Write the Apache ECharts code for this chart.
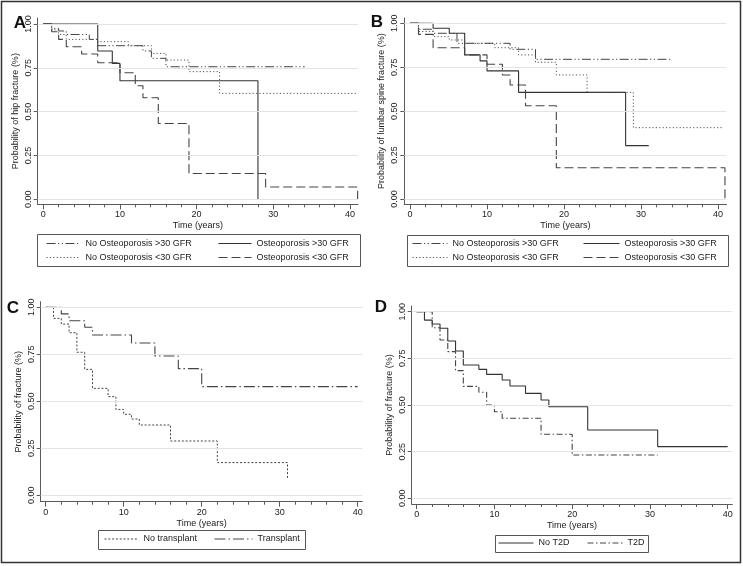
<!DOCTYPE html>
<html><head><meta charset="utf-8">
<script src="https://cdn.jsdelivr.net/npm/echarts@6/dist/echarts.min.js"></script>
<style>html,body{margin:0;padding:0;background:#fff}#c{width:743px;height:566px}</style>
</head><body><div id="c"></div>
<script>
// ---------- data ----------
const yearTicks = [0, 10, 20, 30, 40];
const yearMinorTicks = [2,4,6,8,12,14,16,18,22,24,26,28,32,34,36,38];
const probTicks = [0, 0.25, 0.5, 0.75, 1];
const panelLetters = ['A', 'B', 'C', 'D'];
const yTitles = ['Probability of hip fracture (%)', 'Probability of lumbar spine fracture (%)', 'Probability of fracture (%)', 'Probability of fracture (%)'];
const xTitle = 'Time (years)';
const namesAB = ['No Osteoporosis >30 GFR', 'Osteoporosis >30 GFR', 'No Osteoporosis <30 GFR', 'Osteoporosis <30 GFR'];
const namesC = ['No transplant', 'Transplant'];
const namesD = ['No T2D', 'T2D'];

// Panel A: hip fracture  [time (years), survival probability]
const hipNoOstHigh = [[0,1],[1.1,0.975],[2,0.96],[3,0.94],[6,0.912],[7.1,0.876],[13,0.846],[14.1,0.804],[16,0.756],[34.1,0.756]];
const hipOstHigh   = [[0,1],[7.1,0.846],[9,0.775],[10,0.676],[28,0]];
const hipNoOstLow  = [[0,1],[1.1,0.966],[2,0.94],[3,0.912],[7.1,0.899],[11.1,0.876],[14.1,0.832],[16,0.794],[19,0.728],[23,0.604],[41,0.604]];
const hipOstLow    = [[0,1],[1.1,0.956],[2,0.912],[3,0.87],[5,0.829],[7.1,0.779],[10,0.722],[12,0.648],[13,0.579],[15,0.432],[19,0.147],[29,0.07],[41,0]];
// Panel B: lumbar spine fracture
const spineNoOstHigh = [[0,1],[1.1,0.966],[3,0.943],[6.1,0.886],[13,0.852],[16.3,0.795],[34,0.795]];
const spineOstHigh   = [[0,1],[3,0.972],[5.1,0.943],[7.1,0.82],[9.1,0.786],[10,0.729],[14.1,0.607],[28,0.304],[31,0.304]];
const spineNoOstLow  = [[0,1],[1.1,0.953],[3,0.924],[5.1,0.905],[7.1,0.886],[11,0.861],[14.1,0.82],[16.3,0.778],[19,0.706],[23,0.607],[29,0.406],[40.7,0.406]];
const spineOstLow    = [[0,1],[1.1,0.937],[3,0.861],[7.1,0.82],[10,0.767],[12,0.706],[13,0.649],[15,0.531],[19,0.178],[40.9,0]];
// Panel C: transplant
const noTransplant = [[0,1],[1,0.941],[2,0.911],[3,0.865],[4,0.761],[5,0.67],[6,0.569],[8,0.525],[9,0.457],[10,0.431],[11,0.406],[12,0.374],[16,0.289],[22,0.174],[31,0.09]];
const transplant   = [[0,1],[2,0.965],[3,0.929],[5,0.894],[6,0.853],[11,0.81],[14,0.741],[17,0.674],[20,0.578],[40,0.578]];
// Panel D: type 2 diabetes
const noT2D = [[0,1],[1,0.955],[2,0.934],[3,0.911],[4,0.843],[5,0.789],[6,0.714],[8,0.691],[9,0.664],[11,0.634],[12,0.602],[14,0.5625],[16,0.527],[17,0.491],[22,0.366],[31,0.277],[40,0.277]];
const t2d   = [[0,1],[2,0.914],[3,0.848],[4,0.786],[5,0.684],[6,0.6],[8,0.568],[9,0.5],[10,0.464],[11,0.429],[16,0.343],[20,0.232],[31,0.232]];

// ---------- layout & styles ----------
const FONT = "'Liberation Sans', Arial, Helvetica, sans-serif";
const panels = [
  {grid:{left:37.7, top:18, width:320.3, height:186.3}, x:[-0.73, 41.05], y:[-0.0286, 1.034], letter:[20,23]},
  {grid:{left:404.3, top:18, width:322.2, height:186.3}, x:[-0.74, 41.1], y:[-0.030, 1.030], letter:[377,22]},
  {grid:{left:40.7, top:301.7, width:321.7, height:200}, x:[-0.64, 40.6], y:[-0.034, 1.030], letter:[13,308]},
  {grid:{left:411.7, top:306, width:320.6, height:198}, x:[-0.64, 40.6], y:[-0.0305, 1.0305], letter:[381,307]}
];
const styles = {
  'No Osteoporosis >30 GFR': {color:'#444', width:1, type:[9,2.5,1.2,2.5,1.2,2.5]},
  'Osteoporosis >30 GFR':    {color:'#333', width:1.1, type:'solid'},
  'No Osteoporosis <30 GFR': {color:'#555', width:1, type:[1.2,2.2]},
  'Osteoporosis <30 GFR':    {color:'#444', width:1.1, type:[9,4]},
  'No transplant':           {color:'#444', width:1, type:[2,1.8]},
  'Transplant':              {color:'#444', width:1.1, type:[11,3,1.5,3]},
  'No T2D':                  {color:'#333', width:1.1, type:'solid'},
  'T2D':                     {color:'#444', width:1.1, type:[6,2.5,1.5,2.5]}
};
const panelSeries = [
  [[namesAB[0], hipNoOstHigh], [namesAB[1], hipOstHigh], [namesAB[2], hipNoOstLow], [namesAB[3], hipOstLow]],
  [[namesAB[0], spineNoOstHigh], [namesAB[1], spineOstHigh], [namesAB[2], spineNoOstLow], [namesAB[3], spineOstLow]],
  [[namesC[0], noTransplant], [namesC[1], transplant]],
  [[namesD[0], noT2D], [namesD[1], t2d]]
];
const legendPlaces = [
  {box:[37,234,323,32], items:[[namesAB[0],46,244,34],[namesAB[1],218,244,33],[namesAB[2],46,258,34],[namesAB[3],218,258,33]]},
  {box:[407,235,321,31], items:[[namesAB[0],412,244,35],[namesAB[1],583,244,36],[namesAB[2],412,258,35],[namesAB[3],583,258,36]]},
  {box:[98,530,207,19], items:[[namesC[0],104,539.5,34],[namesC[1],214,539.5,38]]},
  {box:[495,535,153,17], items:[[namesD[0],498,543.5,35],[namesD[1],587,543.5,35]]}
];

const axisColor = '#5a5a5a';
const textColor = '#222';
const grids = [], xAxes = [], yAxes = [], series = [], legends = [], graphics = [];

panels.forEach((p, i) => {
  grids.push(Object.assign({containLabel:false}, p.grid));
  xAxes.push({
    gridIndex:i, type:'value', position:'bottom', min:p.x[0], max:p.x[1],
    axisLine:{show:true, onZero:false, lineStyle:{color:axisColor, width:1}},
    axisTick:{show:true, customValues:yearTicks, length:5, lineStyle:{color:axisColor}},
    axisLabel:{customValues:yearTicks, fontSize:9, color:textColor, margin:6, fontFamily:FONT},
    splitLine:{show:false},
    name:xTitle, nameLocation:'middle', nameGap:17,
    nameTextStyle:{fontSize:9, color:textColor, fontFamily:FONT}
  });
  yAxes.push({
    gridIndex:i, type:'value', position:'left', min:p.y[0], max:p.y[1],
    axisLine:{show:true, onZero:false, lineStyle:{color:axisColor, width:1}},
    axisTick:{show:true, customValues:probTicks, length:4, lineStyle:{color:axisColor}},
    axisLabel:{customValues:probTicks, rotate:90, fontSize:9, color:textColor, margin:5, fontFamily:FONT,
               formatter:v => Number(v).toFixed(2)},
    splitLine:{show:false},
    name:yTitles[i], nameLocation:'middle', nameRotate:90, nameGap:18,
    nameTextStyle:{fontSize:9, color:textColor, fontFamily:FONT}
  });
});
// minor x ticks
panels.forEach((p, i) => {
  xAxes.push({
    gridIndex:i, type:'value', position:'bottom', offset:0, min:p.x[0], max:p.x[1],
    axisLine:{show:false, onZero:false},
    axisTick:{show:true, customValues:yearMinorTicks, length:3, lineStyle:{color:axisColor}},
    axisLabel:{show:false}, splitLine:{show:false}
  });
});

panels.forEach((p, i) => {
  // light horizontal gridlines
  series.push({
    type:'line', xAxisIndex:i, yAxisIndex:i, data:[], z:1, silent:true,
    markLine:{silent:true, symbol:['none','none'], label:{show:false}, animation:false,
      lineStyle:{color:'#e4e4e4', width:1, type:'solid'},
      data:probTicks.map(v => ({yAxis:v}))}
  });
  panelSeries[i].forEach(([name, data]) => {
    const s = styles[name];
    series.push({
      name, type:'line', step:'end', xAxisIndex:i, yAxisIndex:i, data,
      symbol:'none', showSymbol:false, z:3, silent:true,
      lineStyle:{color:s.color, width:s.width, type:s.type},
      itemStyle:{color:s.color}
    });
  });
  const lp = legendPlaces[i];
  graphics.push({type:'rect', shape:{x:lp.box[0]+0.5, y:lp.box[1]+0.5, width:lp.box[2], height:lp.box[3]},
    style:{fill:'none', stroke:'#555', lineWidth:1}, silent:true});
  lp.items.forEach(([name, left, cy, w]) => {
    legends.push({data:[name], left, top:cy-5, itemWidth:w, itemHeight:10, itemGap:0, padding:0,
      selectedMode:false, itemStyle:{opacity:0}, lineStyle:{width:1},
      textStyle:{fontSize:9, color:textColor, fontFamily:FONT}});
  });
  graphics.push({type:'text', x:p.letter[0], y:p.letter[1], silent:true,
    style:{text:panelLetters[i], font:"bold 17px " + FONT, fill:'#111', textAlign:'center', textVerticalAlign:'middle'}});
});
// outer frame
graphics.push({type:'rect', shape:{x:1.5, y:1.5, width:739, height:561}, style:{fill:'none', stroke:'#333', lineWidth:1.5}, silent:true});

const chart = echarts.init(document.getElementById('c'), null, {renderer:'canvas'});
chart.setOption({
  animation:false,
  backgroundColor:'#fff',
  grid:grids, xAxis:xAxes, yAxis:yAxes, series, legend:legends, graphic:graphics
});
</script></body></html>
